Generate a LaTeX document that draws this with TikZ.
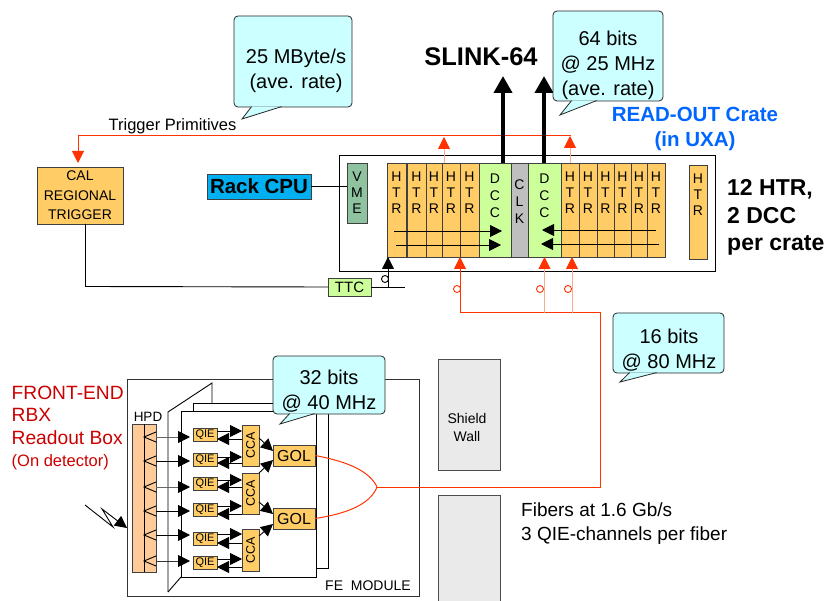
\documentclass[tikz,border=0pt]{standalone}
\usepackage{fontspec}
\setmainfont{Liberation Sans}
\usepackage{xcolor}
\usetikzlibrary{arrows.meta,calc}
\definecolor{cardorange}{HTML}{FFCC66}
\definecolor{cardgreen}{HTML}{CCFF99}
\definecolor{vmegreen}{HTML}{8FC3A0}
\definecolor{cpublue}{HTML}{00B0F0}
\definecolor{bubblecyan}{HTML}{CCFFFF}
\definecolor{fibred}{HTML}{FF3300}
\definecolor{lightfib}{HTML}{FFA890}
\definecolor{titleblue}{HTML}{0066FF}
\definecolor{rbxred}{HTML}{CC0000}
\definecolor{wallgray}{HTML}{EAEAEA}
\definecolor{hpdorange}{HTML}{FFCC99}
\newcommand{\pxfont}[2]{\fontsize{#1}{#2}\selectfont}
\tikzset{
  card/.style={rectangle, draw=black!75, line width=.8pt, inner sep=0pt, outer sep=0pt, align=center},
  slot/.style={card, fill=cardorange, minimum height=94pt},
  letters/.style={anchor=north, align=center, inner sep=0pt, yshift=-9pt, font=\pxfont{14}{16}},
  wide/.style={letters, yshift=-2pt, font=\pxfont{14}{17}},
  qiebox/.style={card, fill=cardorange, minimum width=24pt, minimum height=13pt, font=\pxfont{11}{13}},
  ccabox/.style={card, fill=cardorange, minimum width=17pt, font=\pxfont{12.5}{14}},
  golbox/.style={card, fill=cardorange, minimum width=42pt, minimum height=21pt, font=\pxfont{16}{18}},
  wall/.style={card, draw=black!70, fill=wallgray, minimum width=62pt},
  bubble/.style={rectangle, rounded corners=4pt, draw=black!85, line width=.8pt, fill=bubblecyan, inner sep=0pt},
  bubbletext/.style={anchor=center, align=center, inner sep=0pt, font=\pxfont{20}{25}},
  tail/.style={draw=black!85, line width=.8pt, fill=bubblecyan, line join=miter},
  fine/.style={draw=black, line width=.9pt, -{Triangle[length=12pt,width=12pt,color=black]}},
  plain/.style={draw=black, line width=.9pt},
  fibre/.style={draw=fibred, line width=1pt},
  fibretip/.style={fibre, -{Triangle[length=12pt,width=12pt]}},
  palefibre/.style={draw=lightfib, line width=.9pt, -{Triangle[length=12pt,width=12pt,color=fibred]}},
  slink/.style={draw=black, line width=4pt, -{Triangle[length=17pt,width=18pt]}},
  ring/.style={circle, draw=fibred, line width=.9pt, minimum size=7pt, inner sep=0pt},
  panel/.style={rectangle, draw=black, line width=.9pt, fill=white, inner sep=0pt},
}
\begin{document}
\begin{tikzpicture}[x=1pt,y=-1pt]
  \useasboundingbox (0,0) rectangle (824,601);
  \node[rectangle, draw=black, line width=.9pt, minimum width=376pt, minimum height=116pt, inner sep=0pt] (crate) at (527,213) {};
  \node[card, fill=vmegreen, minimum width=20pt, minimum height=60pt, label={[letters]north:{V\\M\\E}}] (vme) at (357,193) {};
  \foreach \n/\l/\r in {1/387/406,2/407/426,3/426/442,4/442/460,5/460/479,6/561/579,7/579/597,8/597/614,9/614/631,10/631/647,11/647/665} {
    \node[slot, minimum width={\r-\l}, label={[letters]north:{H\\T\\R}}] (htr\n) at ({(\l+\r)/2},210) {};
  }
  \node[slot, minimum width=18pt, label={[letters]north:{H\\T\\R}}] (htr12) at (698,212) {};
  \node[slot, fill=cardgreen, minimum width=32pt, label={[wide]north:{D\\C\\C}}] (dcc1) at (495,210) {};
  \node[slot, fill=black!25, minimum width=17pt, label={[wide, yshift=-6pt]north:{C\\L\\K}}] (clk) at (519.5,210) {};
  \node[slot, fill=cardgreen, minimum width=33pt, label={[wide]north:{D\\C\\C}}] (dcc2) at (544.5,210) {};

  \node[card, fill=cardorange, minimum width=86pt, minimum height=57pt, font=\pxfont{14}{19.5}] (cal) at (80,195.5) {CAL\\REGIONAL\\TRIGGER};
  \node[card, fill=cpublue, minimum width=104pt, minimum height=25pt, font=\bfseries\pxfont{20.5}{24}] (rack) at (259,186.5) {Rack CPU};
  \node[card, fill=cardgreen, minimum width=43pt, minimum height=18pt, font=\pxfont{15}{18}] (ttc) at (349.5,287) {TTC};

  \node[font=\pxfont{16.5}{20}, inner sep=0pt] (trigname) at (172.5,126) {Trigger Primitives};
  \node[font=\bfseries\pxfont{25.5}{30}, inner sep=0pt] (slinkname) at (481,57) {SLINK-64};
  \node[font=\bfseries\pxfont{20.5}{25}, text=titleblue, align=center, inner sep=0pt] (cratename) at (695,129) {READ-OUT Crate\\(in UXA)};
  \node[font=\bfseries\pxfont{23}{27.5}, align=left, anchor=west, inner sep=0pt] (count) at (727,217.5) {12 HTR,\\2 DCC\\per crate};
  \node[font=\pxfont{19.2}{22.5}, text=rbxred, align=left, anchor=west, inner sep=0pt] (rbxname) at (11.5,428) {FRONT-END\\RBX\\Readout Box\\{\pxfont{16.5}{20}(On detector)}};
  \node[font=\pxfont{19}{23.5}, align=left, anchor=west, inner sep=0pt] (fibers) at (521,523.5) {Fibers at 1.6 Gb/s\\3 QIE-channels per fiber};

  \node[wall, minimum height=111pt, label={[align=center, inner sep=0pt, anchor=center, yshift=-12.5pt, xshift=-2pt, font=\pxfont{14}{18}]center:{Shield\\Wall}}] (wallup) at (469,414.5) {};
  \node[wall, minimum height=107pt] (walldn) at (469,548.5) {};

  \node[rectangle, draw=black!80, line width=.9pt, minimum width=292pt, minimum height=217pt, inner sep=0pt] (rbx) at (273,487.5) {};
  \node[panel, minimum width=135pt, minimum height=165pt] (backpanel) at (260.5,485.5) {};
  \draw[plain] (168,592) -- (168,412) -- (212,383) -- (212,403);
  \draw[plain] (168,592) -- (181,577);
  \node[panel, minimum width=135pt, minimum height=166pt] (frontpanel) at (248.5,494) {};
  \node[font=\pxfont{14}{16}, inner sep=0pt] (femod) at (368,586) {FE\ \ MODULE};

  \node[font=\pxfont{13.5}{16}, inner sep=0pt] (hpdname) at (148,417) {HPD};
  \node[card, fill=hpdorange, minimum width=24pt, minimum height=148pt] (hpd) at (144,498) {};
  \draw[plain] (hpd.north) -- (hpd.south);

  \foreach \n/\y in {1/434.5,2/459.5,3/484,4/510,5/538.5,6/563} {
    \node[qiebox] (qie\n) at (205,\y) {QIE};
  }
  \node[ccabox, minimum height=41pt] (cca1) at (250.5,445.5) {\rotatebox{90}{CCA}};
  \node[ccabox, minimum height=41pt] (cca2) at (250.5,493.5) {\rotatebox{90}{CCA}};
  \node[ccabox, minimum height=42pt] (cca3) at (250.5,550) {\rotatebox{90}{CCA}};
  \node[golbox] (gol1) at (294,455.5) {GOL};
  \node[golbox] (gol2) at (294,518.5) {GOL};

  \foreach \n/\y/\k in {1/437/60,2/461/100,3/487/60,4/511/100,5/535/100,6/561/80} {
    \coordinate (pix\n) at (144,\y);
    \draw[plain] (156,\y-5) -- (pix\n) -- (156,\y+5);
    \draw[fine, draw=black!\k, shorten >=3pt] (156,\y) -- (pix\n -| qie\n.west);
  }
  \foreach \n/\c/\u/\d in {1/1/431/439,2/1/457/463,3/2/480/487,4/2/506/514,5/3/534/543,6/3/559/567} {
    \coordinate (upl\n) at (217,\u);
    \coordinate (dnl\n) at (242,\d);
    \draw[fine] (upl\n) -- (upl\n -| cca\c.west);
    \draw[fine] (dnl\n) -- (dnl\n -| qie\n.east);
  }
  \draw[fine] (cca1.east |- 0,438) -- ($(gol1.west)+(0,-4.5)$);
  \draw[fine] (cca2.east |- 0,473) -- ($(gol1.west)+(0,4.5)$);
  \draw[fine] (cca2.east |- 0,502) -- ($(gol2.west)+(0,-4.5)$);
  \draw[fine] (cca3.east |- 0,536) -- ($(gol2.west)+(0,5.5)$);

  \coordinate (beama) at (85,505);
  \coordinate (beamb) at (113,527);
  \coordinate (beamc) at (102,509);
  \coordinate (beamd) at (127,528);
  \draw[fine] (beama) -- (beamb) -- (beamc) -- (beamd);

  \coordinate (fork) at (377,487);
  \coordinate (fibc) at (600,487);
  \coordinate (fibt) at (600,313);
  \coordinate (fibl) at (460,313);
  \coordinate (fibm) at (544.5,313);
  \coordinate (fibr) at (572,313);
  \coordinate (trigr) at (571,136);
  \coordinate (trigl) at (78,136);
  \coordinate (trigm) at (444,137);
  \draw[fibre] (gol1.east) .. controls (350,462) and (370,472) .. (fork);
  \draw[fibre] (gol2.east) .. controls (345,514) and (370,505) .. (fork);
  \draw[fibre] (fork) -- (fibc) -- (fibt) -- (fibl);
  \draw[fibretip] (fibl) -- (htr5.south west);
  \draw[palefibre] (fibm) -- (dcc2.south);
  \draw[palefibre] (fibr) -- (fibr |- htr6.south);
  \draw[fibre] (trigr) -- (trigl);
  \draw[fibretip, shorten >=4pt] (trigl) -- (trigl |- cal.north);
  \draw[palefibre] (htr6.north) -- (htr6.north |- trigr);
  \draw[palefibre] ($(htr3.north east)+(2,0)$) -- (trigm);
  \node[ring] (ringa) at (457,289) {};
  \node[ring] (ringb) at (540,289) {};
  \node[ring] (ringc) at (568,289) {};
  \node[circle, draw=black, line width=.9pt, minimum size=7pt, inner sep=0pt] (ringd) at (385,279) {};

  \coordinate (ttcend) at (405,287);
  \coordinate (ttcup) at (388,287);
  \draw[plain] (cal.south -| 85.5,0) -- (85.5,286.5) -- (ttc.west);
  \draw[plain] (ttc.east) -- (ttcend);
  \draw[fine] (ttcup) -- (ttcup |- htr1.south);
  \draw[plain] (rack.east) -- (rack.east -| vme.west);

  \foreach \a/\b/\c in {394/231/502,396/245/501,656/230/542,659/244/541} {
    \coordinate (busa) at (\a,\b);
    \coordinate (busb) at (\c,\b);
    \draw[fine] (busa) -- (busb);
  }
  \coordinate (slinka) at (503,76);
  \coordinate (slinkb) at (544,76);
  \draw[slink] (slinka |- dcc1.north) -- (slinka);
  \draw[slink] (slinkb |- dcc2.north) -- (slinkb);

  \node[bubble, minimum width=118pt, minimum height=91pt, label={[bubbletext, xshift=3pt, yshift=-9pt]center:{25 MByte/s\\(ave. rate)}}] (bubrate) at (293,61.5) {};
  \draw[tail] ($(bubrate.south west)+(18,-.8)$) -- (242,119) -- ($(bubrate.south west)+(48,-.8)$);
  \node[bubble, minimum width=110pt, minimum height=90pt, label={[bubbletext, yshift=-9.5pt]center:{64 bits\\@ 25 MHz\\(ave. rate)}}] (bubslink) at (608,56) {};
  \draw[tail] ($(bubslink.south west)+(19,-.8)$) -- (560,115) -- ($(bubslink.south west)+(44,-.8)$);
  \node[bubble, minimum width=111pt, minimum height=60pt, label={[bubbletext, xshift=.5pt, yshift=-7pt]center:{16 bits\\@ 80 MHz}}] (bubfib) at (668.5,343) {};
  \draw[tail] ($(bubfib.south west)+(17,-.8)$) -- (620,382) -- ($(bubfib.south west)+(44,-.8)$);
  \node[bubble, minimum width=112pt, minimum height=58pt, label={[bubbletext, yshift=-6pt]center:{32 bits\\@ 40 MHz}}] (bubfe) at (329,385) {};
  \draw[tail] ($(bubfe.south west)+(17,-.8)$) -- (280,424) -- ($(bubfe.south west)+(42,-.8)$);
\end{tikzpicture}
\end{document}
